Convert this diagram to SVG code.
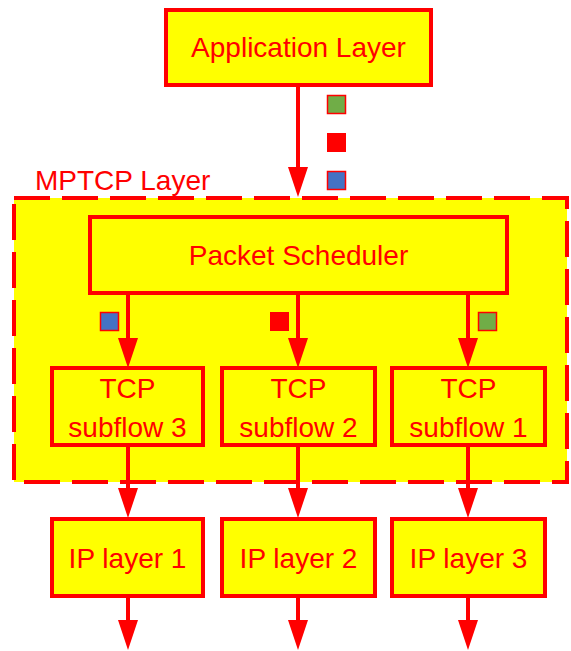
<svg xmlns="http://www.w3.org/2000/svg" width="571" height="651" viewBox="0 0 571 651">
  <style>
    .box { fill: #FFFF00; stroke: #FF0000; stroke-width: 4; }
    .lbl { fill: #FF0000; font-family: "Liberation Sans", Arial, sans-serif; font-size: 28px; text-anchor: middle; }
    .conn { stroke: #FF0000; stroke-width: 4; fill: none; marker-end: url(#head); }
    .pkt { stroke: #FF0000; stroke-width: 1.5; }
  </style>
  <defs>
    <marker id="head" markerUnits="userSpaceOnUse" markerWidth="30" markerHeight="20" refX="20" refY="10" orient="auto">
      <path d="M0,0 L30,10 L0,20 z" fill="#FF0000"/>
    </marker>
  </defs>

  <!-- MPTCP container -->
  <g id="mptcp">
    <rect x="14" y="198" width="553" height="284" fill="#FFFF00" stroke="#FF0000" stroke-width="4" stroke-dasharray="36 12"/>
    <text class="lbl" x="35" y="190" style="text-anchor:start">MPTCP Layer</text>
  </g>

  <g id="app">
    <rect class="box" x="166" y="10" width="265" height="75"/>
    <text class="lbl" x="298.5" y="57">Application Layer</text>
  </g>

  <g id="scheduler">
    <rect class="box" x="90" y="217" width="417" height="76"/>
    <text class="lbl" x="298.5" y="265">Packet Scheduler</text>
  </g>

  <g id="subflow3">
    <rect class="box" x="52" y="368" width="151" height="77"/>
    <text class="lbl" x="127.5" y="398">TCP</text>
    <text class="lbl" x="127.5" y="437">subflow 3</text>
  </g>
  <g id="subflow2">
    <rect class="box" x="222" y="368" width="153" height="77"/>
    <text class="lbl" x="298.5" y="398">TCP</text>
    <text class="lbl" x="298.5" y="437">subflow 2</text>
  </g>
  <g id="subflow1">
    <rect class="box" x="392" y="368" width="153" height="77"/>
    <text class="lbl" x="468.5" y="398">TCP</text>
    <text class="lbl" x="468.5" y="437">subflow 1</text>
  </g>

  <g id="ip1">
    <rect class="box" x="52" y="519" width="151" height="77"/>
    <text class="lbl" x="127.5" y="568">IP layer 1</text>
  </g>
  <g id="ip2">
    <rect class="box" x="222" y="519" width="153" height="77"/>
    <text class="lbl" x="298.5" y="568">IP layer 2</text>
  </g>
  <g id="ip3">
    <rect class="box" x="392" y="519" width="153" height="77"/>
    <text class="lbl" x="468.5" y="568">IP layer 3</text>
  </g>

  <!-- packets -->
  <g id="packets">
    <rect class="pkt" x="327.5" y="95.5" width="18" height="18" fill="#70AD47"/>
    <rect x="327" y="133" width="19" height="19" fill="#FF0000"/>
    <rect class="pkt" x="327.5" y="171.5" width="18" height="18" fill="#4472C4"/>
    <rect class="pkt" x="100.5" y="312.5" width="18" height="18" fill="#4472C4"/>
    <rect x="270" y="312" width="19" height="19" fill="#FF0000"/>
    <rect class="pkt" x="478.5" y="312.5" width="18" height="18" fill="#70AD47"/>
  </g>

  <g id="connectors">
    <line class="conn" x1="298" y1="85" x2="298" y2="187"/>
    <line class="conn" x1="128" y1="293" x2="128" y2="358"/>
    <line class="conn" x1="298" y1="293" x2="298" y2="358"/>
    <line class="conn" x1="468" y1="293" x2="468" y2="358"/>
    <line class="conn" x1="128" y1="445" x2="128" y2="508"/>
    <line class="conn" x1="298" y1="445" x2="298" y2="508"/>
    <line class="conn" x1="468" y1="445" x2="468" y2="508"/>
    <line class="conn" x1="128" y1="596" x2="128" y2="640"/>
    <line class="conn" x1="298" y1="596" x2="298" y2="640"/>
    <line class="conn" x1="468" y1="596" x2="468" y2="640"/>
  </g>
</svg>
